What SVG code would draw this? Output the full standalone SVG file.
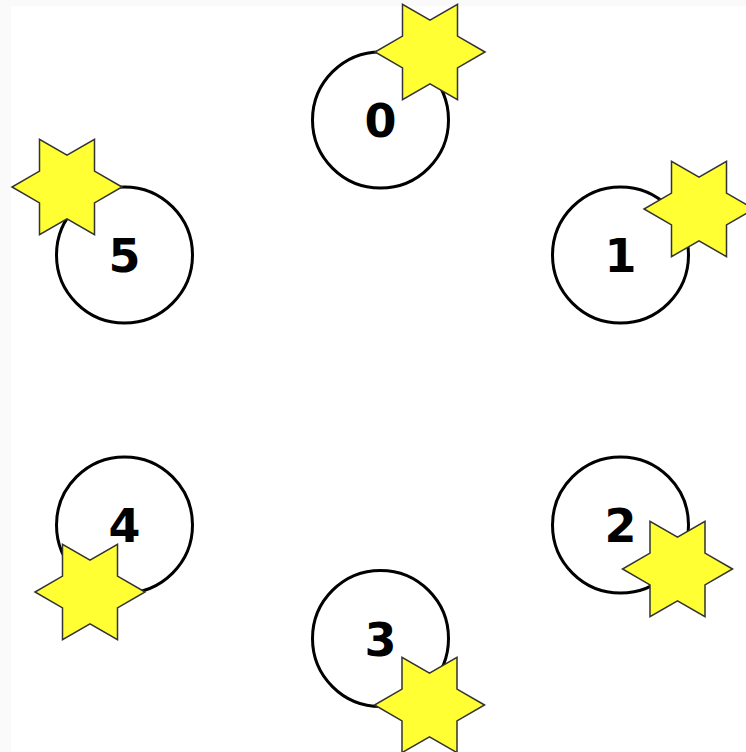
<svg xmlns="http://www.w3.org/2000/svg" xmlns:xlink="http://www.w3.org/1999/xlink" width="746" height="752" viewBox="0 0 746 752">
<style>
.node circle{fill:#ffffff;stroke:#000000;stroke-width:3}
.node text{font-family:"DejaVu Sans",sans-serif;font-weight:bold;font-size:46px;fill:#000000;text-anchor:middle}
.star{fill:#ffff33;stroke:#333333;stroke-width:1.5;stroke-linejoin:miter}
</style>
<defs>
<path id="hexagram" d="M55,0 L27.5,-15.875 L27.5,-47.63 L0,-31.75 L-27.5,-47.63 L-27.5,-15.875 L-55,0 L-27.5,15.875 L-27.5,47.63 L0,31.75 L27.5,47.63 L27.5,15.875 Z"/>
</defs>
<rect x="0" y="0" width="746" height="752" fill="#fafafa"/>
<rect x="11" y="6" width="735" height="746" fill="#ffffff"/>
<g id="connectors"></g>
<g id="node0" class="node">
<circle cx="380.5" cy="120" r="68"/>
<text x="380.5" y="137">0</text>
<use xlink:href="#hexagram" class="star" transform="translate(430,52)"/>
</g>
<g id="node1" class="node">
<circle cx="620.5" cy="255" r="68"/>
<text x="620.5" y="272">1</text>
<use xlink:href="#hexagram" class="star" transform="translate(699,209)"/>
</g>
<g id="node2" class="node">
<circle cx="620.5" cy="525" r="68"/>
<text x="620.5" y="542">2</text>
<use xlink:href="#hexagram" class="star" transform="translate(677.5,569)"/>
</g>
<g id="node3" class="node">
<circle cx="380.5" cy="638.5" r="68"/>
<text x="380.5" y="655.5">3</text>
<use xlink:href="#hexagram" class="star" transform="translate(429.5,705)"/>
</g>
<g id="node4" class="node">
<circle cx="124.5" cy="525" r="68"/>
<text x="124.5" y="542">4</text>
<use xlink:href="#hexagram" class="star" transform="translate(90,592)"/>
</g>
<g id="node5" class="node">
<circle cx="124.5" cy="255" r="68"/>
<text x="124.5" y="272">5</text>
<use xlink:href="#hexagram" class="star" transform="translate(67,187)"/>
</g>
</svg>
